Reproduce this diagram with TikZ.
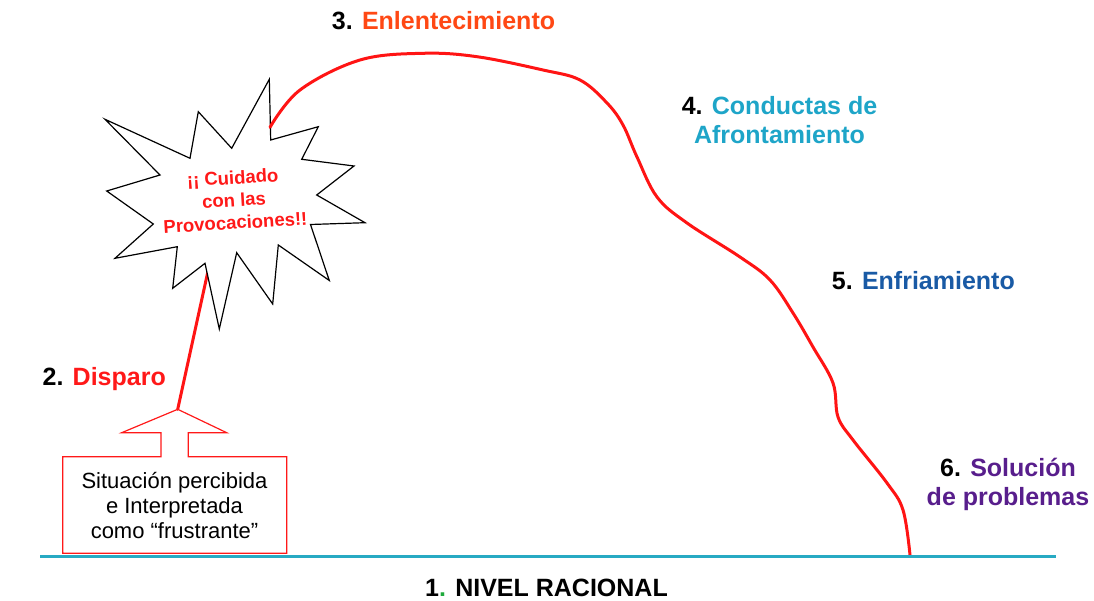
\documentclass[tikz,border=0pt]{standalone}
\usepackage{fontspec}
\setmainfont{Liberation Sans}
\definecolor{enl}{RGB}{255,72,20}
\definecolor{afr}{RGB}{30,165,200}
\definecolor{enf}{RGB}{25,90,165}
\definecolor{sol}{RGB}{88,30,140}
\definecolor{disp}{RGB}{255,25,25}
\definecolor{curvered}{RGB}{255,20,20}
\definecolor{okgreen}{RGB}{30,170,60}
\definecolor{lvlblue}{RGB}{40,170,195}
\begin{document}
\begin{tikzpicture}[x=1pt,y=-1pt,
  lbl/.style={font=\fontsize{25}{29}\selectfont\bfseries, inner sep=0pt, anchor=base west},
  lblc/.style={font=\fontsize{25}{29}\selectfont\bfseries, inner sep=0pt, align=center, anchor=base},
  boxtext/.style={font=\fontsize{22}{25}\selectfont, inner sep=0pt, align=center, anchor=base},
  warntext/.style={font=\fontsize{18.5}{22.5}\selectfont\bfseries, text=disp, inner sep=0pt, align=center, rotate=3.5},
  burst/.style={draw=black, fill=white, line width=1.2pt, line join=miter},
  redline/.style={draw=curvered, line width=3pt, line cap=round, line join=round},
  boxline/.style={draw=disp, line width=1.2pt},
  level/.style={draw=lvlblue, line width=3pt}
]
\useasboundingbox (0,0) rectangle (1094,601);

% trigger line (under the burst)
\coordinate (tip) at (177.7,409.3);
\coordinate (burstin) at (210,262);
\draw[redline] (tip) -- (burstin);

% starburst
\draw[burst] (269.3,79.3) -- (270.7,140) -- (318.3,126.7) -- (301.7,159.3) -- (354,166)
  -- (316.7,195) -- (365,222.7) -- (310.5,224.5) -- (329.3,280.5) -- (278.3,245)
  -- (272.7,304) -- (236.7,252.7) -- (219.3,329) -- (205,263.3) -- (172.7,288.3)
  -- (177.3,246.7) -- (115,258.3) -- (153.3,224) -- (106.7,191) -- (160,175)
  -- (105,119.3) -- (190,158.3) -- (198.3,111.7) -- (231.7,148.3) -- cycle;
\node[warntext] (warn) at (234,200) {¡¡ Cuidado\\con las\\Provocaciones!!};

% main curve
\coordinate (cstart) at (270,127.3);
\draw[redline] plot[smooth, tension=0.6] coordinates {
  (270,127.3) (300,90) (360,60) (423,53.3) (477,56.7) (543,70) (580,80) (607,103)
  (623,125) (637,157) (657,197) (687,223) (740,257) (770,280) (793,313) (813,347)
  (833,383) (838,417) (853,440) (887,483) (903,510) (910,555)};

% arrow box
\draw[boxline] (62.7,553.3) -- (62.7,456.7) -- (161,456.7) -- (161,432.7) -- (121.7,432.7)
  -- (tip) -- (226.7,432.7) -- (188.3,432.7) -- (188.3,456.7) -- (286.7,456.7)
  -- (286.7,553.3) -- cycle;
\node[boxtext] (box) at (174.5,538) {Situación percibida\\e Interpretada\\como “frustrante”};

% baseline
\coordinate (l0) at (40,556.5);
\coordinate (l1) at (1056,556.5);
\draw[level] (l0) -- (l1);

% labels
\node[lbl] (n3) at (331.7,29.3) {3. \textcolor{enl}{Enlentecimiento}};
\node[lblc] (n4) at (779.5,143.5) {4. \textcolor{afr}{Conductas de}\\\textcolor{afr}{Afrontamiento}};
\node[lbl] (n5) at (831.7,289.3) {5. \textcolor{enf}{Enfriamiento}};
\node[lblc] (n6) at (1008,505) {6. \textcolor{sol}{Solución}\\\textcolor{sol}{de problemas}};
\node[lbl] (n2) at (42.4,385) {2. \textcolor{disp}{Disparo}};
\node[lbl] (n1) at (425,596) {1\textcolor{okgreen}{.} NIVEL RACIONAL};
\end{tikzpicture}
\end{document}
